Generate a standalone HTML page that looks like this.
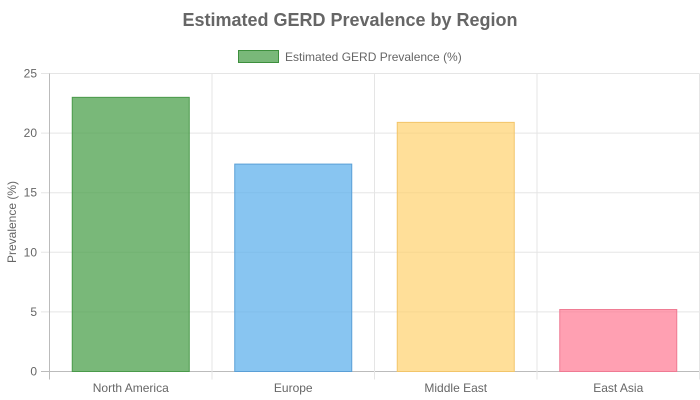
<!DOCTYPE html>
<html><head><meta charset="utf-8"><style>
body{margin:0;background:#fff;font-family:"Liberation Sans",sans-serif}
svg{display:block}
</style></head><body>
<svg id="chart" width="700" height="400"></svg>
<script>
const categories=["North America","Europe","Middle East","East Asia"];
const values=[23,17.4,20.9,5.2];
const yTicks=[0,5,10,15,20,25];
const fills=["rgba(76,160,76,0.75)","rgba(90,175,235,0.72)","rgba(255,210,110,0.7)","rgba(255,120,145,0.7)"];
const strokes=["#4a9a4a","#5a9fd6","#f2c56a","#ef7a93"];
const svg=document.getElementById('chart');
const NS="http://www.w3.org/2000/svg";
const L=49.5,R=699.5,T=73.5,B=371.5,yMax=25;
const y=v=>B-(v/yMax)*(B-T);
const bw=(R-L)/categories.length;
const xc=i=>L+bw*(i+0.5);
function mk(t,a,txt){const e=document.createElementNS(NS,t);for(const k in a)e.setAttribute(k,a[k]);if(txt!=null)e.textContent=txt;svg.appendChild(e);return e;}
let e=mk('text',{x:350,y:26,'text-anchor':'middle','font-size':18,'font-weight':'bold',fill:'#666'},'Estimated GERD Prevalence by Region');


e=mk('rect',{x:238.5,y:50.5,width:40,height:12,fill:'rgba(76,160,76,0.75)',stroke:'#3d8f3d'});


e=mk('text',{x:285,y:61,'font-size':12,fill:'#666'},'Estimated GERD Prevalence (%)');


yTicks.forEach(t=>{
 e=mk('line',{x1:41,x2:R,y1:y(t),y2:y(t),stroke:t===0?'#bbb':'#e5e5e5'});
 
 
 e=mk('text',{x:37,y:y(t)+4,'text-anchor':'end','font-size':12,fill:'#666'},t);
 
 
});
for(let i=0;i<=categories.length;i++){
 e=mk('line',{x1:L+bw*i,x2:L+bw*i,y1:T,y2:B+8,stroke:i===0?'#bbb':'#e5e5e5'});
 
 
}
categories.forEach((c,i)=>{
 const w=bw*0.72;
 e=mk('rect',{x:xc(i)-w/2,y:y(values[i]),width:w,height:B-y(values[i]),fill:fills[i],stroke:strokes[i],'stroke-width':1});
 
 
 e=mk('text',{x:xc(i),y:392,'text-anchor':'middle','font-size':12,fill:'#666'},c);
 
 
});
e=mk('text',{x:16,y:222,'text-anchor':'middle','font-size':12,fill:'#666',transform:'rotate(-90 16 222)'},'Prevalence (%)');


</script>
</body></html>
